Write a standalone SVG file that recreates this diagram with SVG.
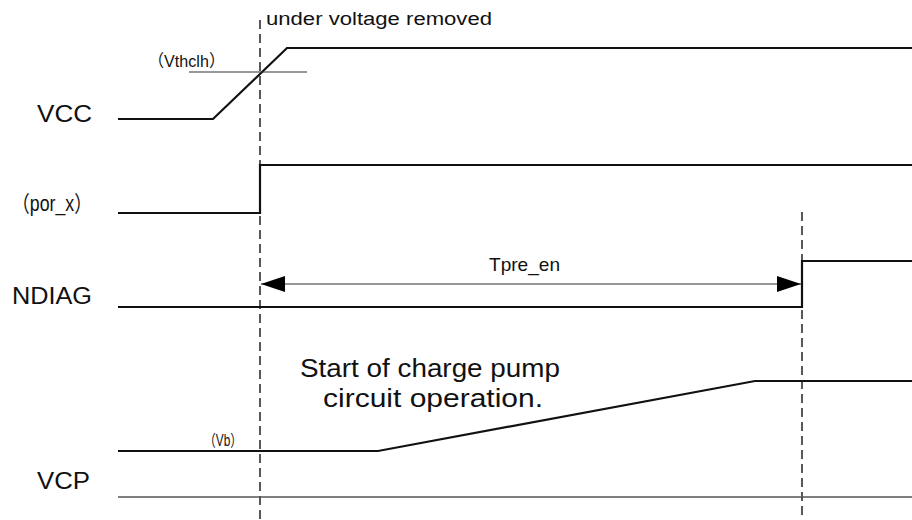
<svg xmlns="http://www.w3.org/2000/svg" width="912" height="520" viewBox="0 0 912 520">
<style>
.sig{fill:none;stroke:#111;stroke-width:2.2}
.thin{fill:none;stroke:#333;stroke-width:1.1}
.base{fill:none;stroke:#555;stroke-width:1.3}
.dash{fill:none;stroke:#222;stroke-width:1.5;stroke-dasharray:9 5}
.lbl{font-family:"Liberation Sans","Noto Sans CJK JP",sans-serif;fill:#111}
</style>
<defs>
<marker id="ah" viewBox="0 0 24 16" refX="24" refY="8" markerWidth="24" markerHeight="16" markerUnits="userSpaceOnUse" orient="auto-start-reverse">
<path d="M0,0 L24,8 L0,16 Z" fill="#000"/>
</marker>
</defs>
<rect width="912" height="520" fill="#fff"/>
<g id="labels">
<text class="lbl" x="37" y="122" font-size="24" textLength="55" lengthAdjust="spacingAndGlyphs">VCC</text>
<text class="lbl" x="12" y="211" font-size="22" textLength="80" lengthAdjust="spacingAndGlyphs">（por_x）</text>
<text class="lbl" x="12" y="304" font-size="23" textLength="80" lengthAdjust="spacingAndGlyphs">NDIAG</text>
<text class="lbl" x="37" y="489" font-size="24" textLength="53" lengthAdjust="spacingAndGlyphs">VCP</text>
</g>
<g id="connectors">
<path class="dash" d="M260,20 V520"/>
<path class="dash" d="M802,212 V520"/>
<path class="thin" d="M261,284 H801" marker-start="url(#ah)" marker-end="url(#ah)"/>
</g>
<g id="vcc">
<path class="sig" d="M118,119 H213 L287,48 H912"/>
<path class="thin" d="M189,72 H307"/>
<text class="lbl" x="148" y="67" font-size="17" textLength="77" lengthAdjust="spacingAndGlyphs">（Vthclh）</text>
<text class="lbl" x="266" y="25" font-size="18" textLength="226" lengthAdjust="spacingAndGlyphs">under voltage removed</text>
</g>
<g id="por_x">
<path class="sig" d="M118,213 H260 V165 H912"/>
</g>
<g id="ndiag">
<path class="sig" d="M118,307 H802 V261 H912"/>
<text class="lbl" x="489" y="271" font-size="19" textLength="71" lengthAdjust="spacingAndGlyphs">Tpre_en</text>
</g>
<g id="vcp">
<path class="sig" d="M118,451 H378 L755,381 H912"/>
<path class="base" d="M118,497 H912"/>
<text class="lbl" x="204" y="446" font-size="16" textLength="38" lengthAdjust="spacingAndGlyphs">（Vb）</text>
<text class="lbl" x="300" y="377" font-size="26" textLength="260" lengthAdjust="spacingAndGlyphs">Start of charge pump</text>
<text class="lbl" x="323" y="407" font-size="26" textLength="220" lengthAdjust="spacingAndGlyphs">circuit operation.</text>
</g>
</svg>
